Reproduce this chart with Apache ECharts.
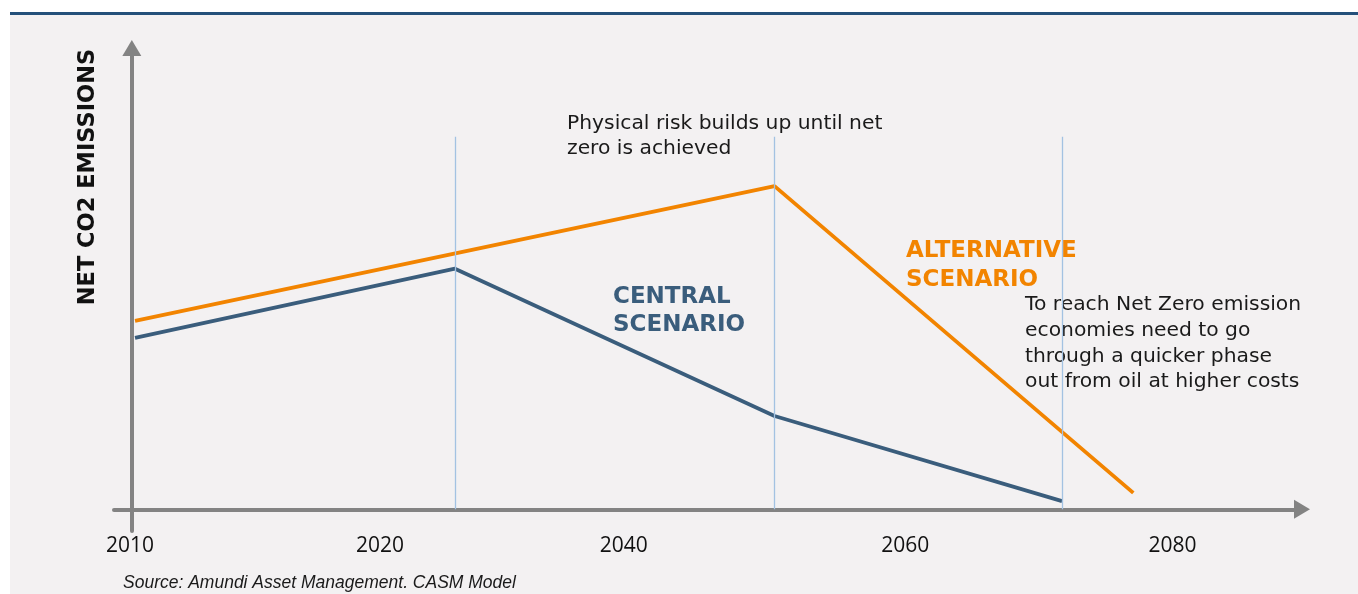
<!DOCTYPE html>
<html>
<head>
<meta charset="utf-8">
<script src="https://cdn.jsdelivr.net/npm/echarts@6/dist/echarts.min.js"></script>
<style>
  html, body { margin: 0; padding: 0; background: #ffffff; }
  #chart { width: 1358px; height: 594px; }
</style>
</head>
<body>
<div id="chart"></div>
<script>
// schematic time axis (units are not calendar years, the source chart is not to scale)
const tickX = [-0.15, 20.9, 41.4, 65.1, 87.6]
const tickLabels = ['2010', '2020', '2040', '2060', '2080']

const centralX = [0.27, 27.2, 54.1, 78.3]
const centralY = [35.5, 49.8, 19.3, 1.7]

const alternativeX = [0.27, 54.1, 84.3]
const alternativeY = [39.0, 66.9, 3.4]

// milestone guides
const guideX = [27.2, 54.1, 78.3]
const guideTop = 77.1

const toPairs = (xs, ys) => xs.map((x, i) => [x, ys[i]])

const chart = echarts.init(document.getElementById('chart'))

const bodyFont = '"DejaVu Sans", "Open Sans", sans-serif'
const boldFont = '"DejaVu Sans", "Open Sans", sans-serif'

const option = {
  animation: false,
  backgroundColor: 'transparent',
  grid: {
    left: 114,
    right: 56,
    top: 48,
    bottom: 63,
  },
  xAxis: {
    type: 'value',
    min: -1.5,
    max: 98.5,
    axisLine: {
      onZero: true,
      symbol: ['none', 'triangle'],
      symbolSize: [19, 16],
      lineStyle: { color: '#838383', width: 4 },
    },
    axisTick: { show: false },
    splitLine: { show: false },
    axisLabel: {
      customValues: tickX,
      margin: 5,
      color: '#111111',
      fontFamily: '"Open Sans", sans-serif',
      fontSize: 21,
      formatter: (v) => {
        const i = tickX.findIndex((t) => Math.abs(t - v) < 1e-6)
        return i >= 0 ? tickLabels[i] : ''
      },
    },
  },
  yAxis: {
    type: 'value',
    min: -4.5,
    max: 95.5,
    axisLine: {
      show: true,
      onZero: true,
      symbol: ['none', 'triangle'],
      symbolSize: [19, 16],
      lineStyle: { color: '#838383', width: 4 },
    },
    axisTick: { show: false },
    axisLabel: { show: false },
    splitLine: { show: false },
  },
  series: [
    {
      name: 'Guides',
      type: 'line',
      data: [],
      silent: true,
      markLine: {
        silent: true,
        symbol: ['none', 'none'],
        label: { show: false },
        lineStyle: { color: '#a3c2e2', width: 1.3, type: 'solid' },
        data: guideX.map((x) => [{ coord: [x, 0] }, { coord: [x, guideTop] }]),
      },
    },
    {
      name: 'Central scenario',
      type: 'line',
      symbol: 'none',
      z: 3,
      lineStyle: { color: '#3a5d7c', width: 3.8 },
      data: toPairs(centralX, centralY),
    },
    {
      name: 'Alternative scenario',
      type: 'line',
      symbol: 'none',
      z: 3,
      lineStyle: { color: '#f28400', width: 3.8 },
      data: toPairs(alternativeX, alternativeY),
    },
  ],
  graphic: [
    {
      type: 'rect',
      z: -10,
      silent: true,
      shape: { x: 10, y: 15, width: 1348, height: 579 },
      style: { fill: '#f3f1f2' },
    },
    {
      type: 'rect',
      z: -9,
      silent: true,
      shape: { x: 10, y: 12, width: 1348, height: 3 },
      style: { fill: '#24507a' },
    },
    {
      type: 'text',
      x: 88,
      y: 177,
      rotation: Math.PI / 2,
      style: {
        text: 'NET CO2 EMISSIONS',
        font: 'bold 22.5px ' + boldFont,
        fill: '#111111',
        textAlign: 'center',
        textVerticalAlign: 'middle',
      },
    },
    {
      type: 'text',
      x: 567,
      y: 111.5,
      style: {
        text: 'Physical risk builds up until net\nzero is achieved',
        font: '20.3px ' + bodyFont,
        lineHeight: 25,
        fill: '#1a1a1a',
        textVerticalAlign: 'top',
      },
    },
    {
      type: 'text',
      x: 613,
      y: 283,
      style: {
        text: 'CENTRAL\nSCENARIO',
        font: 'bold 23px ' + boldFont,
        lineHeight: 28,
        fill: '#3a5d7c',
        textVerticalAlign: 'top',
      },
    },
    {
      type: 'text',
      x: 906,
      y: 236.5,
      style: {
        text: 'ALTERNATIVE\nSCENARIO',
        font: 'bold 23px ' + boldFont,
        lineHeight: 29,
        fill: '#f28400',
        textVerticalAlign: 'top',
      },
    },
    {
      type: 'text',
      x: 1025,
      y: 292,
      style: {
        text: 'To reach Net Zero emission\neconomies need to go\nthrough a quicker phase\nout from oil at higher costs',
        font: '20.3px ' + bodyFont,
        lineHeight: 25.7,
        fill: '#1a1a1a',
        textVerticalAlign: 'top',
      },
    },
    {
      type: 'text',
      x: 123,
      y: 583,
      style: {
        text: 'Source: Amundi Asset Management. CASM Model',
        font: 'italic 17.5px "Liberation Sans", Arial, sans-serif',
        fill: '#1a1a1a',
        textVerticalAlign: 'middle',
      },
    },
  ],
}

chart.setOption(option)
</script>
</body>
</html>
